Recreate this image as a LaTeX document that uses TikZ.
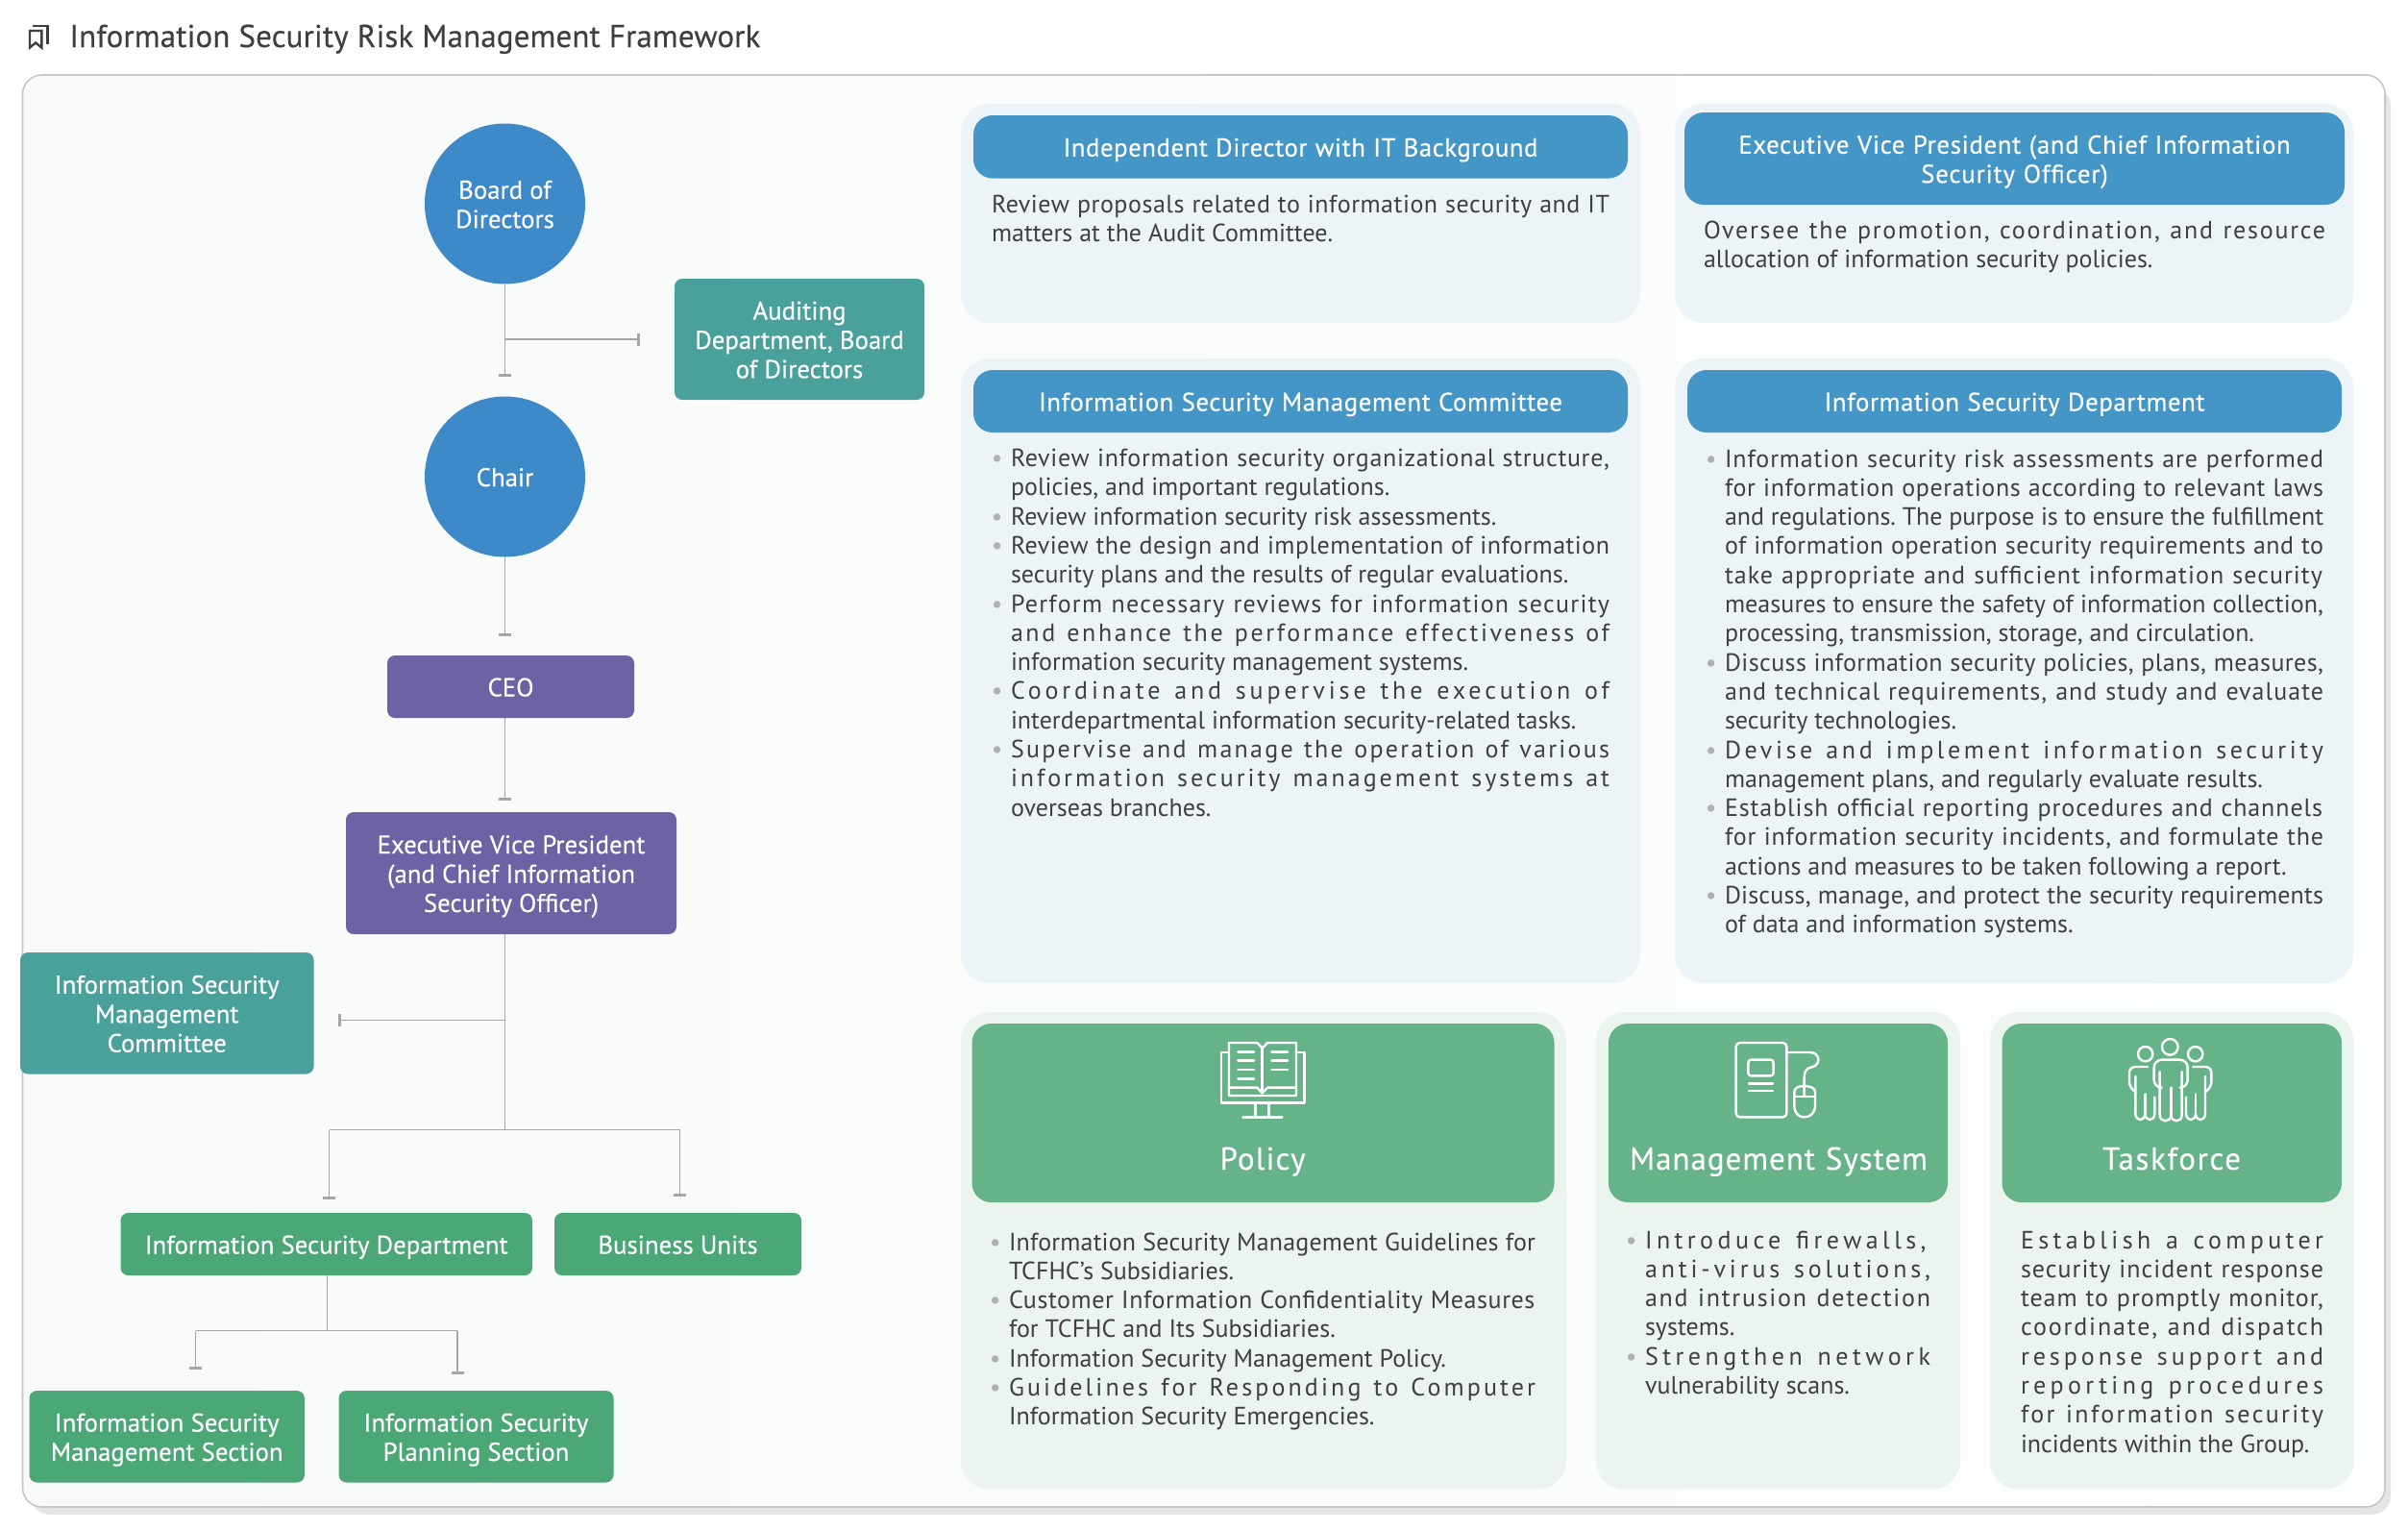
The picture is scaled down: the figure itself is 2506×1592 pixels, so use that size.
\documentclass[tikz,border=0pt]{standalone}
\usepackage{fontspec}
\usepackage{xstring}
\usetikzlibrary{arrows.meta,calc}
\setmainfont{PT Sans}
\newfontfamily\medf[FakeBold=0.3]{PT Sans}
\definecolor{cblue}{HTML}{3E89C8}
\definecolor{cteal}{HTML}{4AA19C}
\definecolor{cpurple}{HTML}{6D62A3}
\definecolor{cgreen}{HTML}{4BA776}
\definecolor{chead}{HTML}{4496C7}
\definecolor{ccard}{HTML}{66B38A}
\definecolor{pblue}{HTML}{ECF4F8}
\definecolor{pgreen}{HTML}{EBF4EE}
\definecolor{ctext}{HTML}{3F3F3F}
\definecolor{cwire}{HTML}{A6A6A6}
\definecolor{cbul}{HTML}{B0B0B0}
\definecolor{bgleft}{HTML}{F8F9F9}
\definecolor{bgright}{HTML}{FDFEFE}
\frenchspacing
\lineskiplimit=-20pt
\makeatletter
\newsavebox\fitbox
\newcommand\fitline[2]{%
  \sbox\fitbox{#2}%
  \StrLen{#2}[\fitlen]%
  \pgfmathsetmacro\fitgap{(#1-\wd\fitbox)/(\fitlen-1)}%
  \pgfmathsetmacro\fitls{\fitgap*100/\f@size}%
  \edef\fitdo{\noexpand\addfontfeature{LetterSpace=\fitls}}%
  {\fitdo \spaceskip=\dimexpr\fontdimen2\font+\fitgap pt\relax #2}}
\makeatother
\newcommand\st{\rule[-3.5pt]{0pt}{17pt}}
\newcommand\bodyf{\fontsize{13pt}{15.15pt}\selectfont\color{ctext}}
\newcommand\bul{\llap{\textcolor{cbul}{\textbullet}\hspace{4.2pt}}}
\newcommand\FL[1]{\hbox{\fitline{\LW}{#1}}}
\newcommand\BL[1]{\hbox{\bul\fitline{\LW}{#1}}}
\newcommand\PL[1]{\hbox{#1}}
\newcommand\BP[1]{\hbox{\bul #1}}
\newcommand\bx[7]{\node[#2, minimum width={(#5-#3)*0.5pt}, minimum height={(#6-#4)*0.5pt}] (#1) at ({(#3+#5)/2},{(#4+#6)/2}) {#7};}
\tikzset{
  x=0.5pt,y=-0.5pt,
  boxbase/.style={inner sep=0pt,outer sep=0pt,text=white,align=center,rounded corners=4pt,
     font=\medf\fontsize{13.4pt}{15.2pt}\selectfont},
  circ/.style={circle,fill=cblue,inner sep=0pt,outer sep=0pt,text=white,align=center,
     minimum size=83.5pt,font=\medf\fontsize{13.4pt}{15.2pt}\selectfont},
  tealbox/.style={boxbase,fill=cteal},
  purplebox/.style={boxbase,fill=cpurple},
  greenbox/.style={boxbase,fill=cgreen},
  headbox/.style={boxbase,fill=chead,rounded corners=10pt},
  cardbox/.style={boxbase,fill=ccard,rounded corners=10pt},
  cardtitle/.style={inner sep=0pt,anchor=base,text=white,font=\medf\fontsize{16.5pt}{20pt}\selectfont},
  bluepanel/.style={inner sep=0pt,outer sep=0pt,fill=pblue,rounded corners=15pt},
  greenpanel/.style={inner sep=0pt,outer sep=0pt,fill=pgreen,rounded corners=15pt},
  bodytext/.style={inner sep=0pt,outer sep=0pt,anchor=base west,font=\bodyf},
  wire/.style={draw=cwire,line width=0.55pt},
  wiretip/.style={wire,-{Bar[width=6.5pt,length=0pt,line width=1.5pt,cwire]}},
  icon/.style={draw=white,line width=1.2pt,line cap=round,line join=round},
}
\begin{document}
\begin{tikzpicture}
\useasboundingbox (0,0) rectangle (2506,1592);
\fill[white] (0,0) rectangle (2506,1592);
% title
\draw[draw=ctext,line width=1.2pt,line join=miter] (31,49.5) -- (31,32) -- (43.3,32) -- (43.3,49.5) -- (37.2,44.5) -- cycle;
\draw[draw=ctext,line width=1.2pt] (34,26.7) -- (49.3,26.7) -- (49.3,46);
\node[inner sep=0pt,anchor=base west,text=ctext,font=\medf\fontsize{16.5pt}{20pt}\selectfont] (title) at (72,49) {\fitline{359.5pt}{Information Security Risk Management Framework}};
% frame
\fill[fill=black!10,rounded corners=10pt] (32,90) rectangle (2488,1576);
\shade[left color=bgleft,right color=bgright,draw=black!22,line width=0.8pt,rounded corners=10pt] (23.5,78) rectangle (2482,1568);
% org chart
\bx{audit}{tealbox}{702}{290}{962}{416}{\st Auditing\\\st Department, Board\\\st of Directors}
\node[circ] (board) at (525.5,212) {\st Board of\\\st Directors};
\node[circ] (chair) at (525.5,496) {\st Chair};
\bx{ceo}{purplebox}{403}{682}{660}{747}{\st CEO}
\bx{evp}{purplebox}{360}{845}{704}{972}{\st Executive Vice President\\\st (and Chief Information\\\st Security Officer)}
\bx{ismcbox}{tealbox}{21}{991}{326.5}{1117.5}{\st Information Security\\\st Management\\\st Committee}
\bx{isd}{greenbox}{125.5}{1262}{554}{1327}{\st Information Security Department}
\bx{bu}{greenbox}{577}{1262}{834}{1327}{\st Business Units}
\bx{ismsec}{greenbox}{30.5}{1447}{317}{1542.5}{\st Information Security\\\st Management Section}
\bx{isplan}{greenbox}{352.5}{1447}{638.5}{1542.5}{\st Information Security\\\st Planning Section}
\coordinate (t1) at (525.5,392);
\coordinate (j1) at (525.5,353);
\coordinate (a1) at (666,353);
\coordinate (t2) at (525.5,662);
\coordinate (t3) at (525.5,833);
\coordinate (j2) at (525.5,1061.5);
\coordinate (a2) at (352,1061.5);
\coordinate (j3) at (525.5,1175.5);
\coordinate (l3) at (342.5,1175.5);
\coordinate (r3) at (707.5,1175.5);
\coordinate (t4) at (342.5,1248);
\coordinate (t5) at (707.5,1245);
\coordinate (j4) at (340.5,1384.5);
\coordinate (l4) at (203.5,1384.5);
\coordinate (r4) at (476,1384.5);
\coordinate (t6) at (203.5,1425);
\coordinate (t7) at (476,1430);
\draw[wiretip] (board.south) -- (t1);
\draw[wiretip] (j1) -- (a1);
\draw[wiretip] (chair.south) -- (t2);
\draw[wiretip] (t3 |- ceo.south) -- (t3);
\draw[wire] (j3 |- evp.south) -- (j3);
\draw[wiretip] (j2) -- (a2);
\draw[wire] (l3) -- (r3);
\draw[wiretip] (l3) -- (t4);
\draw[wiretip] (r3) -- (t5);
\draw[wire] (j4 |- isd.south) -- (j4);
\draw[wire] (l4) -- (r4);
\draw[wiretip] (l4) -- (t6);
\draw[wiretip] (r4) -- (t7);
% upper panels
\bx{p1}{bluepanel}{1000}{108}{1707}{336}{}
\bx{p2}{bluepanel}{1743}{108}{2449}{336}{}
\bx{p3}{bluepanel}{1000}{373}{1707}{1023}{}
\bx{p4}{bluepanel}{1743}{373}{2449}{1023}{}
\bx{h1}{headbox}{1013}{120}{1694}{185.5}{\st\fitline{247pt}{Independent Director with IT Background}}
\bx{h2}{headbox}{1753}{117}{2440}{213}{\st\fitline{287.25pt}{Executive Vice President (and Chief Information}\\\st\fitline{97.7pt}{Security Officer)}}
\bx{h3}{headbox}{1013}{385}{1694}{450}{\st\fitline{272.5pt}{Information Security Management Committee}}
\bx{h4}{headbox}{1756}{385}{2437}{450}{\st\fitline{198pt}{Information Security Department}}
\def\LW{321.5pt}
\node[bodytext] (b1) at (1032,221) {\vtop{
\FL{Review proposals related to information security and IT}
\PL{matters at the Audit Committee.}}};
\def\LW{323.5pt}
\node[bodytext] (b2) at (1773,248) {\vtop{
\FL{Oversee the promotion, coordination, and resource}
\PL{allocation of information security policies.}}};
\def\LW{311.5pt}
\node[bodytext] (b3) at (1052,485.5) {\vtop{
\BL{Review information security organizational structure,}
\PL{policies, and important regulations.}
\BP{Review information security risk assessments.}
\BL{Review the design and implementation of information}
\PL{security plans and the results of regular evaluations.}
\BL{Perform necessary reviews for information security}
\FL{and enhance the performance effectiveness of}
\PL{information security management systems.}
\BL{Coordinate and supervise the execution of}
\PL{interdepartmental information security-related tasks.}
\BL{Supervise and manage the operation of various}
\FL{information security management systems at}
\PL{overseas branches.}}};
\node[bodytext] (b4) at (1795,486) {\vtop{
\BL{Information security risk assessments are performed}
\FL{for information operations according to relevant laws}
\FL{and regulations. The purpose is to ensure the fulfillment}
\FL{of information operation security requirements and to}
\FL{take appropriate and sufficient information security}
\FL{measures to ensure the safety of information collection,}
\PL{processing, transmission, storage, and circulation.}
\BL{Discuss information security policies, plans, measures,}
\FL{and technical requirements, and study and evaluate}
\PL{security technologies.}
\BL{Devise and implement information security}
\PL{management plans, and regularly evaluate results.}
\BL{Establish official reporting procedures and channels}
\FL{for information security incidents, and formulate the}
\PL{actions and measures to be taken following a report.}
\BL{Discuss, manage, and protect the security requirements}
\PL{of data and information systems.}}};
% lower panels
\bx{p5}{greenpanel}{1000}{1053}{1630}{1549.5}{}
\bx{p6}{greenpanel}{1661}{1053}{2040}{1549.5}{}
\bx{p7}{greenpanel}{2071}{1053}{2449.5}{1549.5}{}
\bx{c1}{cardbox}{1011.5}{1065}{1617.5}{1251}{}
\bx{c2}{cardbox}{1674}{1065}{2027}{1251}{}
\bx{c3}{cardbox}{2083.5}{1065}{2437}{1251}{}
\node[cardtitle] (c1t) at (1314,1217) {\fitline{44.5pt}{Policy}};
\node[cardtitle] (c2t) at (1851,1217) {\fitline{155pt}{Management System}};
\node[cardtitle] (c3t) at (2260,1217) {\fitline{72pt}{Taskforce}};
\def\LW{274pt}
\node[bodytext] (b5) at (1050,1301) {\vtop{
\BL{Information Security Management Guidelines for}
\PL{TCFHC's Subsidiaries.}
\BL{Customer Information Confidentiality Measures}
\PL{for TCFHC and Its Subsidiaries.}
\BP{Information Security Management Policy.}
\BL{Guidelines for Responding to Computer}
\PL{Information Security Emergencies.}}};
\def\LW{148.5pt}
\node[bodytext] (b6) at (1712,1299) {\vtop{
\BL{Introduce firewalls,}
\FL{anti-virus solutions,}
\FL{and intrusion detection}
\PL{systems.}
\BL{Strengthen network}
\PL{vulnerability scans.}}};
\def\LW{157.5pt}
\node[bodytext] (b7) at (2103,1299) {\vtop{
\FL{Establish a computer}
\FL{security incident response}
\FL{team to promptly monitor,}
\FL{coordinate, and dispatch}
\FL{response support and}
\FL{reporting procedures}
\FL{for information security}
\PL{incidents within the Group.}}};
% book icon
\begin{scope}[shift={(1240,1060)},x=0.16667pt,y=-0.16667pt]
\draw[icon] (117,105) -- (93,105) -- (93,262) -- (352,262) -- (352,105) -- (327,105);
\draw[icon] (205,75) -- (117,75) -- (117,240) -- (327,240) -- (327,75) -- (237,75) -- (221,92) -- (205,75);
\draw[icon] (221,92) -- (221,232);
\draw[icon] (117,215) -- (205,215) -- (221,232) -- (237,215) -- (327,215);
\foreach \yy in {103,131,159,187} \draw[icon] (145,\yy) -- (195,\yy);
\foreach \yy in {103,131,159} \draw[icon] (250,\yy) -- (300,\yy);
\draw[icon] (200,262) -- (200,307);
\draw[icon] (242,262) -- (242,307);
\draw[icon] (160,307) -- (283,307);
\end{scope}
% system icon
\begin{scope}[shift={(1780,1060)},x=0.16667pt,y=-0.16667pt]
\draw[icon,rounded corners=2pt] (80,75) rectangle (238,307);
\draw[icon,rounded corners=1.5pt] (118,128) rectangle (197,178);
\draw[icon] (120,203) -- (195,203);
\draw[icon] (120,225) -- (195,225);
\draw[icon] (238,105) -- (312,105) .. controls (330,105) and (337,118) .. (337,128) .. controls (337,145) and (322,150) .. (312,152) .. controls (298,155) and (293,168) .. (293,185) -- (293,243);
\draw[icon] (262,243) -- (262,228) .. controls (262,216) and (275,210) .. (293,210) .. controls (312,210) and (327,216) .. (327,228) -- (327,270) .. controls (327,295) and (312,307) .. (293,307) .. controls (275,307) and (262,295) .. (262,270) -- cycle;
\draw[icon] (262,243) -- (327,243);
\end{scope}
% people icon
\begin{scope}[shift={(2180,1060)},x=0.16667pt,y=-0.16667pt]
\draw[icon] (158,110) circle[radius=23];
\draw[icon] (235,88) circle[radius=25];
\draw[icon] (314,110) circle[radius=23];
\draw[icon,rounded corners=4pt] (203,215) -- (185,215) -- (185,128) -- (290,128) -- (290,215) -- (272,215);
\draw[icon] (203,165) -- (203,300) .. controls (203,325) and (238,325) .. (238,300) .. controls (238,325) and (272,325) .. (272,300) -- (272,165);
\draw[icon] (238,215) -- (238,300);
\draw[icon,rounded corners=3pt] (165,150) -- (108,150) -- (108,215) -- (127,228);
\draw[icon] (127,180) -- (127,295) .. controls (127,322) and (157,322) .. (157,295) .. controls (157,322) and (187,322) .. (187,295) -- (187,245);
\draw[icon] (157,235) -- (157,295);
\draw[icon,rounded corners=3pt] (307,150) -- (364,150) -- (364,215) -- (345,228);
\draw[icon] (345,180) -- (345,295) .. controls (345,322) and (315,322) .. (315,295) .. controls (315,322) and (285,322) .. (285,295) -- (285,245);
\draw[icon] (315,235) -- (315,295);
\end{scope}
\end{tikzpicture}
\end{document}
